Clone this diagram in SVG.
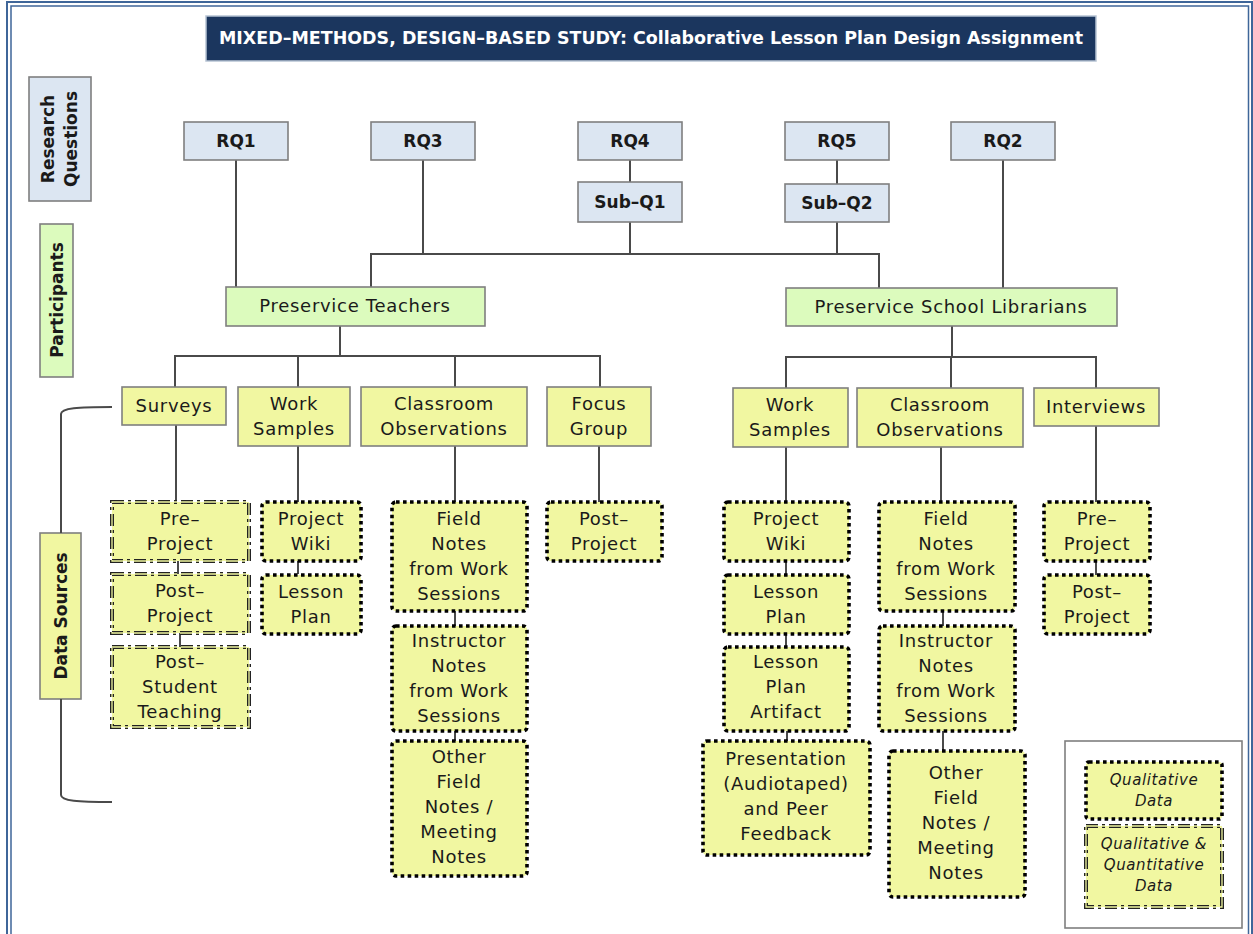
<svg xmlns="http://www.w3.org/2000/svg" width="1253" height="934" viewBox="0 0 1253 934">
  <defs>
    <style>
      .t { font-family: "DejaVu Sans", "Liberation Sans", sans-serif; font-size: 18px; letter-spacing: 0.7px; fill: #1a1a1a; text-anchor: middle; }
      .tb { font-family: "DejaVu Sans", "Liberation Sans", sans-serif; font-size: 17px; font-weight: bold; fill: #1a1a1a; text-anchor: middle; }
      .ti { font-family: "DejaVu Sans", "Liberation Sans", sans-serif; font-size: 15px; letter-spacing: 0.6px; font-style: italic; fill: #1a1a1a; text-anchor: middle; }
      .rq { fill: #dce6f2; stroke: #7f7f7f; stroke-width: 1.6; }
      .pt { fill: #dcfbbd; stroke: #7f7f7f; stroke-width: 1.6; }
      .ds { fill: #f1f7a1; stroke: #7f7f7f; stroke-width: 1.6; }
      .dot { fill: #f1f7a1; stroke: #000; stroke-width: 3.6; stroke-dasharray: 3.6 3.4; }
      .qqa { fill: #f1f7a1; stroke: #222; stroke-width: 4; stroke-dasharray: 12 4 3 4; }
      .qqb { fill: none; stroke: #f1f7a1; stroke-width: 1.3; stroke-dasharray: 12 4 3 4; }
      .ln { fill: none; stroke: #4a4a4a; stroke-width: 2; }
    </style>
  </defs>

  <rect width="1253" height="934" fill="#ffffff"/>

  <!-- page frame: double rule -->
  <path d="M7,940 V2 H1252 V940" fill="none" stroke="#3f6699" stroke-width="2"/>
  <path d="M11,940 V6 H1248.5 V940" fill="none" stroke="#3f6699" stroke-width="1.5"/>

  <!-- title banner -->
  <g id="title">
    <rect x="206" y="16" width="890" height="45" fill="#1b365e" stroke="#b7c3d3" stroke-width="1.5"/>
    <text x="651" y="44" font-family="DejaVu Sans, Liberation Sans, sans-serif" font-size="17" font-weight="bold" fill="#ffffff" text-anchor="middle" textLength="864" lengthAdjust="spacingAndGlyphs">MIXED–METHODS, DESIGN–BASED STUDY: Collaborative Lesson Plan Design Assignment</text>
  </g>

  <!-- side labels -->
  <g id="label-research-questions">
    <rect x="29" y="77" width="62" height="124" class="rq"/>
    <text class="tb" transform="translate(54,139) rotate(-90)">Research</text>
    <text class="tb" transform="translate(77,139) rotate(-90)">Questions</text>
  </g>
  <g id="label-participants">
    <rect x="40" y="224" width="33" height="153" class="pt"/>
    <text class="tb" transform="translate(63,300) rotate(-90)">Participants</text>
  </g>
  <g id="label-data-sources">
    <rect x="40" y="533" width="41" height="166" class="ds"/>
    <text class="tb" transform="translate(67,616) rotate(-90)">Data Sources</text>
    <path class="ln" stroke-width="1.5" d="M112,407 C78,407 61,408 61,414 V533 M61,699 V795 C61,801 78,802 112,802"/>
  </g>

  <!-- connectors -->
  <g id="connectors" class="ln">
    <path d="M236,160 V287"/>
    <path d="M423,160 V254"/>
    <path d="M630,160 V182 M630,222 V254"/>
    <path d="M837,160 V184 M837,222 V254"/>
    <path d="M371,287 V254 H879 V288"/>
    <path d="M1003,160 V288"/>

    <path d="M340,326 V356"/>
    <path d="M175,387 V356 H600 V387"/>
    <path d="M298,356 V387"/>
    <path d="M455,356 V387"/>

    <path d="M952,326 V357"/>
    <path d="M786,388 V357 H1096 V388"/>
    <path d="M951,357 V388"/>

    <path d="M176,425 V502 M178,561 V574 M180,633 V647"/>
    <path d="M298,446 V502 M298,561 V574"/>
    <path d="M455,446 V502 M455,611 V626 M455,731 V741"/>
    <path d="M599,446 V502"/>

    <path d="M786,447 V502 M786,561 V575 M786,634 V647 M787,731 V741"/>
    <path d="M941,447 V502 M943,611 V626 M943,731 V751"/>
    <path d="M1096,426 V502 M1096,561 V575"/>
  </g>

  <!-- research questions -->
  <g id="rq1"><rect x="184" y="122" width="104" height="38" class="rq"/><text class="tb" x="236" y="147">RQ1</text></g>
  <g id="rq3"><rect x="371" y="122" width="104" height="38" class="rq"/><text class="tb" x="423" y="147">RQ3</text></g>
  <g id="rq4"><rect x="578" y="122" width="104" height="38" class="rq"/><text class="tb" x="630" y="147">RQ4</text></g>
  <g id="rq5"><rect x="785" y="122" width="104" height="38" class="rq"/><text class="tb" x="837" y="147">RQ5</text></g>
  <g id="rq2"><rect x="951" y="122" width="104" height="38" class="rq"/><text class="tb" x="1003" y="147">RQ2</text></g>
  <g id="subq1"><rect x="578" y="182" width="104" height="40" class="rq"/><text class="tb" x="630" y="208">Sub–Q1</text></g>
  <g id="subq2"><rect x="785" y="184" width="104" height="38" class="rq"/><text class="tb" x="837" y="209">Sub–Q2</text></g>

  <!-- participants -->
  <g id="preservice-teachers"><rect x="226" y="287" width="259" height="39" class="pt"/><text class="t" x="355" y="312">Preservice Teachers</text></g>
  <g id="preservice-librarians"><rect x="786" y="288" width="331" height="38" class="pt"/><text class="t" x="951" y="313">Preservice School Librarians</text></g>

  <!-- data source categories: teachers -->
  <g id="surveys"><rect x="122" y="387" width="104" height="38" class="ds"/><text class="t" x="174" y="412">Surveys</text></g>
  <g id="work-samples-t"><rect x="238" y="387" width="112" height="59" class="ds"/><text class="t" x="294" y="410">Work</text><text class="t" x="294" y="435">Samples</text></g>
  <g id="classroom-obs-t"><rect x="361" y="387" width="166" height="59" class="ds"/><text class="t" x="444" y="410">Classroom</text><text class="t" x="444" y="435">Observations</text></g>
  <g id="focus-group"><rect x="547" y="387" width="104" height="59" class="ds"/><text class="t" x="599" y="410">Focus</text><text class="t" x="599" y="435">Group</text></g>

  <!-- data source categories: librarians -->
  <g id="work-samples-l"><rect x="733" y="388" width="115" height="59" class="ds"/><text class="t" x="790" y="411">Work</text><text class="t" x="790" y="436">Samples</text></g>
  <g id="classroom-obs-l"><rect x="857" y="388" width="166" height="59" class="ds"/><text class="t" x="940" y="411">Classroom</text><text class="t" x="940" y="436">Observations</text></g>
  <g id="interviews"><rect x="1034" y="388" width="125" height="38" class="ds"/><text class="t" x="1096" y="413">Interviews</text></g>

  <!-- survey instruments (qualitative and quantitative) -->
  <g id="survey-pre">
    <rect x="112" y="502" width="137" height="59" class="qqa"/><rect x="112" y="502" width="137" height="59" class="qqb"/>
    <text class="t" x="180" y="525">Pre–</text><text class="t" x="180" y="550">Project</text>
  </g>
  <g id="survey-post">
    <rect x="112" y="574" width="137" height="59" class="qqa"/><rect x="112" y="574" width="137" height="59" class="qqb"/>
    <text class="t" x="180" y="597">Post–</text><text class="t" x="180" y="622">Project</text>
  </g>
  <g id="survey-post-student-teaching">
    <rect x="112" y="647" width="137" height="80" class="qqa"/><rect x="112" y="647" width="137" height="80" class="qqb"/>
    <text class="t" x="180" y="668">Post–</text><text class="t" x="180" y="693">Student</text><text class="t" x="180" y="718">Teaching</text>
  </g>

  <!-- teacher qualitative sources -->
  <g id="wiki-t"><rect x="262" y="502" width="99" height="59" rx="4" class="dot"/><text class="t" x="311" y="525">Project</text><text class="t" x="311" y="550">Wiki</text></g>
  <g id="lesson-plan-t"><rect x="262" y="575" width="99" height="59" rx="4" class="dot"/><text class="t" x="311" y="598">Lesson</text><text class="t" x="311" y="623">Plan</text></g>
  <g id="field-notes-t"><rect x="392" y="502" width="135" height="109" rx="4" class="dot"/>
    <text class="t" x="459" y="525">Field</text><text class="t" x="459" y="550">Notes</text><text class="t" x="459" y="575">from Work</text><text class="t" x="459" y="600">Sessions</text></g>
  <g id="instructor-notes-t"><rect x="392" y="626" width="135" height="105" rx="4" class="dot"/>
    <text class="t" x="459" y="647">Instructor</text><text class="t" x="459" y="672">Notes</text><text class="t" x="459" y="697">from Work</text><text class="t" x="459" y="722">Sessions</text></g>
  <g id="other-notes-t"><rect x="392" y="741" width="135" height="135" rx="4" class="dot"/>
    <text class="t" x="459" y="763">Other</text><text class="t" x="459" y="788">Field</text><text class="t" x="459" y="813">Notes /</text><text class="t" x="459" y="838">Meeting</text><text class="t" x="459" y="863">Notes</text></g>
  <g id="focus-post"><rect x="547" y="502" width="115" height="59" rx="4" class="dot"/><text class="t" x="604" y="525">Post–</text><text class="t" x="604" y="550">Project</text></g>

  <!-- librarian qualitative sources -->
  <g id="wiki-l"><rect x="724" y="502" width="125" height="59" rx="4" class="dot"/><text class="t" x="786" y="525">Project</text><text class="t" x="786" y="550">Wiki</text></g>
  <g id="lesson-plan-l"><rect x="724" y="575" width="125" height="59" rx="4" class="dot"/><text class="t" x="786" y="598">Lesson</text><text class="t" x="786" y="623">Plan</text></g>
  <g id="lesson-artifact-l"><rect x="724" y="647" width="125" height="84" rx="4" class="dot"/>
    <text class="t" x="786" y="668">Lesson</text><text class="t" x="786" y="693">Plan</text><text class="t" x="786" y="718">Artifact</text></g>
  <g id="presentation-l"><rect x="703" y="741" width="167" height="114" rx="4" class="dot"/>
    <text class="t" x="786" y="765">Presentation</text><text class="t" x="786" y="790">(Audiotaped)</text><text class="t" x="786" y="815">and Peer</text><text class="t" x="786" y="840">Feedback</text></g>
  <g id="field-notes-l"><rect x="879" y="502" width="136" height="109" rx="4" class="dot"/>
    <text class="t" x="946" y="525">Field</text><text class="t" x="946" y="550">Notes</text><text class="t" x="946" y="575">from Work</text><text class="t" x="946" y="600">Sessions</text></g>
  <g id="instructor-notes-l"><rect x="879" y="626" width="136" height="105" rx="4" class="dot"/>
    <text class="t" x="946" y="647">Instructor</text><text class="t" x="946" y="672">Notes</text><text class="t" x="946" y="697">from Work</text><text class="t" x="946" y="722">Sessions</text></g>
  <g id="other-notes-l"><rect x="889" y="751" width="136" height="146" rx="4" class="dot"/>
    <text class="t" x="956" y="779">Other</text><text class="t" x="956" y="804">Field</text><text class="t" x="956" y="829">Notes /</text><text class="t" x="956" y="854">Meeting</text><text class="t" x="956" y="879">Notes</text></g>
  <g id="interview-pre"><rect x="1044" y="502" width="106" height="59" rx="4" class="dot"/><text class="t" x="1097" y="525">Pre–</text><text class="t" x="1097" y="550">Project</text></g>
  <g id="interview-post"><rect x="1044" y="575" width="106" height="59" rx="4" class="dot"/><text class="t" x="1097" y="598">Post–</text><text class="t" x="1097" y="623">Project</text></g>

  <!-- key -->
  <g id="legend">
    <rect x="1065" y="741" width="177" height="187" fill="#ffffff" stroke="#7f7f7f" stroke-width="1.6"/>
    <rect x="1086" y="762" width="136" height="57" rx="3" class="dot"/>
    <text class="ti" x="1154" y="785">Qualitative</text><text class="ti" x="1154" y="806">Data</text>
    <rect x="1086" y="826" width="136" height="81" class="qqa"/><rect x="1086" y="826" width="136" height="81" class="qqb"/>
    <text class="ti" x="1154" y="849">Qualitative &amp;</text><text class="ti" x="1154" y="870">Quantitative</text><text class="ti" x="1154" y="891">Data</text>
  </g>
</svg>
